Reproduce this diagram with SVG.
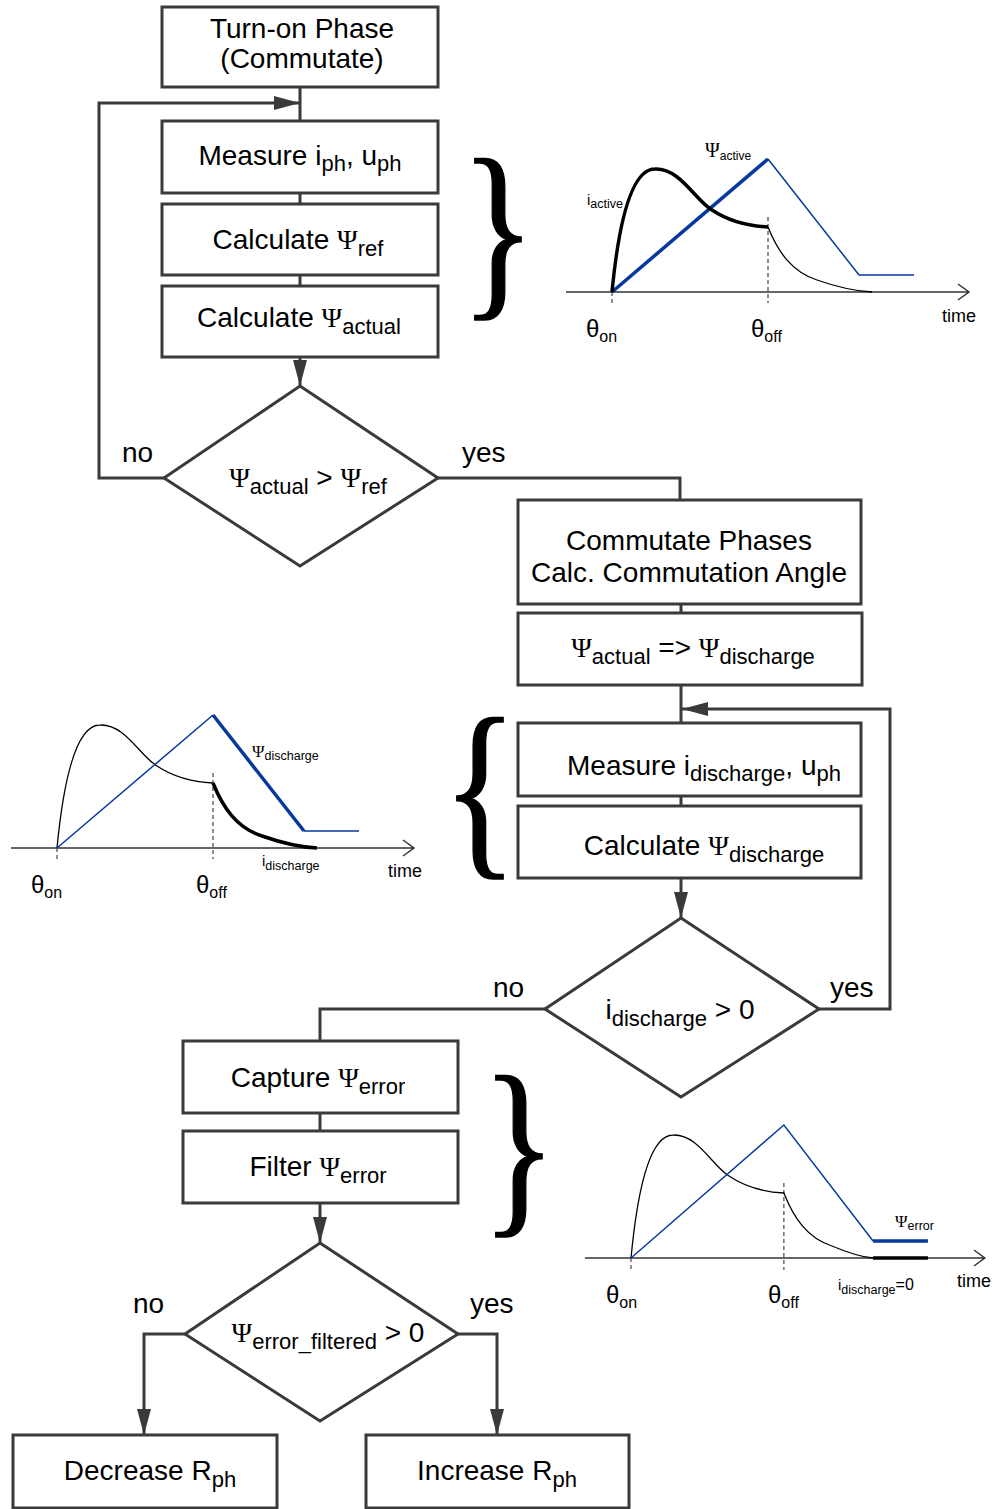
<svg xmlns="http://www.w3.org/2000/svg" width="1002" height="1509" viewBox="0 0 1002 1509">
  <style>
    .box { fill: #fff; stroke: #3a3a3a; stroke-width: 3; }
    .conn { fill: none; stroke: #3a3a3a; stroke-width: 3; }
    .t { font-family: "Liberation Sans", Arial, sans-serif; font-size: 28px; fill: #000; }
    .s { font-size: 22px; }
    .psi { font-family: "Liberation Serif", "Times New Roman", serif; }
    .brace { font-family: "Liberation Serif", "Times New Roman", serif; font-size: 195px; fill: #000; stroke: #000; stroke-width: 1.5; }
    .ax { fill: none; stroke: #333; stroke-width: 1.5; }
    .dash { fill: none; stroke: #444; stroke-width: 1.2; stroke-dasharray: 4 3; }
    .ik { fill: none; stroke: #000; stroke-width: 3.5; }
    .in { fill: none; stroke: #000; stroke-width: 1.3; }
    .fk { fill: none; stroke: #06399f; stroke-width: 3.5; }
    .fn { fill: none; stroke: #06399f; stroke-width: 1.5; }
    .g { font-family: "Liberation Sans", Arial, sans-serif; font-size: 18px; fill: #000; }
    .gs { font-size: 12.5px; }
    .th { font-size: 24px; }
    .ths { font-size: 16px; }
  </style>
  <defs>
    <marker id="arrow" markerUnits="userSpaceOnUse" markerWidth="26" markerHeight="14" refX="26" refY="7" orient="auto">
      <path d="M0,0 L26,7 L0,14 z" fill="#3a3a3a"/>
    </marker>
  </defs>

  <rect width="1002" height="1509" fill="#fff"/>

  <!-- connectors -->
  <g id="connectors">
    <path class="conn" d="M300,87 V121"/>
    <path class="conn" d="M164,478 H99 V103 H300" marker-end="url(#arrow)"/>
    <path class="conn" d="M300,193 V204"/>
    <path class="conn" d="M300,275 V286"/>
    <path class="conn" d="M300,357 V386" marker-end="url(#arrow)"/>
    <path class="conn" d="M438,478 H680 V500"/>
    <path class="conn" d="M681,604 V613"/>
    <path class="conn" d="M681,685 V723"/>
    <path class="conn" d="M819,1009 H890 V709 H682" marker-end="url(#arrow)"/>
    <path class="conn" d="M681,796 V806"/>
    <path class="conn" d="M681,878 V918" marker-end="url(#arrow)"/>
    <path class="conn" d="M545,1009 H320 V1041"/>
    <path class="conn" d="M320,1113 V1131"/>
    <path class="conn" d="M320,1203 V1243" marker-end="url(#arrow)"/>
    <path class="conn" d="M185,1334 H144 V1435" marker-end="url(#arrow)"/>
    <path class="conn" d="M458,1334 H497 V1435" marker-end="url(#arrow)"/>
  </g>

  <!-- branch labels -->
  <g id="branch-labels" class="t">
    <text x="122" y="462">no</text>
    <text x="462" y="462">yes</text>
    <text x="493" y="997">no</text>
    <text x="830" y="997">yes</text>
    <text x="133" y="1313">no</text>
    <text x="470" y="1313">yes</text>
  </g>

  <g id="turn-on">
    <rect class="box" x="162" y="7" width="276" height="80"/>
    <text class="t" x="302" y="38" text-anchor="middle">Turn-on Phase</text>
    <text class="t" x="302" y="68" text-anchor="middle">(Commutate)</text>
  </g>

  <g id="measure-ph">
    <rect class="box" x="162" y="121" width="276" height="72"/>
    <text class="t" x="300" y="165" text-anchor="middle">Measure i<tspan class="s" dy="6">ph</tspan><tspan dy="-6">, u</tspan><tspan class="s" dy="6">ph</tspan></text>
  </g>

  <g id="calc-ref">
    <rect class="box" x="162" y="204" width="276" height="71"/>
    <text class="t" x="298" y="249" text-anchor="middle">Calculate <tspan class="psi">Ψ</tspan><tspan class="s" dy="7">ref</tspan></text>
  </g>

  <g id="calc-actual">
    <rect class="box" x="162" y="286" width="276" height="71"/>
    <text class="t" x="299" y="327" text-anchor="middle">Calculate <tspan class="psi">Ψ</tspan><tspan class="s" dy="7">actual</tspan></text>
  </g>

  <g id="decision-actual">
    <polygon class="box" points="300,386 438,478 300,566 164,478"/>
    <text class="t" x="308" y="487" text-anchor="middle"><tspan class="psi">Ψ</tspan><tspan class="s" dy="7">actual</tspan><tspan dy="-7"> &gt; </tspan><tspan class="psi">Ψ</tspan><tspan class="s" dy="7">ref</tspan></text>
  </g>

  <g id="commutate">
    <rect class="box" x="518" y="500" width="343" height="104"/>
    <text class="t" x="689" y="550" text-anchor="middle">Commutate Phases</text>
    <text class="t" x="689" y="582" text-anchor="middle">Calc. Commutation Angle</text>
  </g>

  <g id="flux-transfer">
    <rect class="box" x="518" y="613" width="344" height="72"/>
    <text class="t" x="693" y="657" text-anchor="middle"><tspan class="psi">Ψ</tspan><tspan class="s" dy="7">actual</tspan><tspan dy="-7"> =&gt; </tspan><tspan class="psi">Ψ</tspan><tspan class="s" dy="7">discharge</tspan></text>
  </g>

  <g id="measure-discharge">
    <rect class="box" x="518" y="723" width="343" height="73"/>
    <text class="t" x="704" y="775" text-anchor="middle">Measure i<tspan class="s" dy="6">discharge</tspan><tspan dy="-6">, u</tspan><tspan class="s" dy="6">ph</tspan></text>
  </g>

  <g id="calc-discharge">
    <rect class="box" x="518" y="806" width="343" height="72"/>
    <text class="t" x="704" y="855" text-anchor="middle">Calculate <tspan class="psi">Ψ</tspan><tspan class="s" dy="7">discharge</tspan></text>
  </g>

  <g id="decision-discharge">
    <polygon class="box" points="681,918 819,1009 681,1097 545,1009"/>
    <text class="t" x="680" y="1019" text-anchor="middle">i<tspan class="s" dy="7">discharge</tspan><tspan dy="-7"> &gt; 0</tspan></text>
  </g>

  <g id="capture-error">
    <rect class="box" x="183" y="1041" width="275" height="72"/>
    <text class="t" x="318" y="1087" text-anchor="middle">Capture <tspan class="psi">Ψ</tspan><tspan class="s" dy="7">error</tspan></text>
  </g>

  <g id="filter-error">
    <rect class="box" x="183" y="1131" width="275" height="72"/>
    <text class="t" x="318" y="1176" text-anchor="middle">Filter <tspan class="psi">Ψ</tspan><tspan class="s" dy="7">error</tspan></text>
  </g>

  <g id="decision-error">
    <polygon class="box" points="320,1243 458,1334 320,1421 185,1334"/>
    <text class="t" x="328" y="1342" text-anchor="middle"><tspan class="psi">Ψ</tspan><tspan class="s" dy="7">error_filtered</tspan><tspan dy="-7"> &gt; 0</tspan></text>
  </g>

  <g id="decrease-r">
    <rect class="box" x="13" y="1435" width="264" height="73"/>
    <text class="t" x="150" y="1480" text-anchor="middle">Decrease R<tspan class="s" dy="7">ph</tspan></text>
  </g>

  <g id="increase-r">
    <rect class="box" x="366" y="1435" width="263" height="73"/>
    <text class="t" x="497" y="1480" text-anchor="middle">Increase R<tspan class="s" dy="7">ph</tspan></text>
  </g>

  <!-- braces grouping the steps with their waveforms -->
  <g id="braces">
    <text class="brace" transform="translate(498,294) scale(0.8,1)" text-anchor="middle">}</text>
    <text class="brace" transform="translate(480,853) scale(0.8,1)" text-anchor="middle">{</text>
    <text class="brace" transform="translate(519,1211) scale(0.8,1)" text-anchor="middle">}</text>
  </g>

  <!-- waveform: active phase (origin at theta_on on the time axis) -->
  <g id="plot-active" transform="translate(612,292)">
    <path class="ax" d="M-46,0 H357 M346,-8 L357,0 L346,8"/>
    <path class="dash" d="M0,0 V11 M156,-75 V11"/>
    <path class="in" d="M156,-65 C166,-40 180,-20 205,-12 C225,-5 240,-1 260,0"/>
    <path class="fn" d="M156,-133 L247,-17 H302"/>
    <path class="fk" d="M0,0 L156,-133"/>
    <path class="ik" d="M0,0 C6,-62 18,-123 43,-123 C68,-124 83,-92 100,-82 C118,-70 136,-66 156,-65"/>
  </g>
  <g id="plot-active-labels" class="g">
    <text x="587" y="205" font-size="15">i<tspan class="gs" font-size="12" dy="3">active</tspan></text>
    <text x="705" y="157"><tspan class="psi" font-size="20">Ψ</tspan><tspan font-size="12" dy="3">active</tspan></text>
    <text x="586" y="337" class="th">θ<tspan class="ths" dy="5">on</tspan></text>
    <text x="751" y="337" class="th">θ<tspan class="ths" dy="5">off</tspan></text>
    <text x="942" y="322">time</text>
  </g>

  <!-- waveform: discharge phase -->
  <g id="plot-discharge" transform="translate(57,848)">
    <path class="ax" d="M-46,0 H357 M346,-8 L357,0 L346,8"/>
    <path class="dash" d="M0,0 V11 M156,-75 V11"/>
    <path class="in" d="M0,0 C6,-62 18,-123 43,-123 C68,-124 83,-92 100,-82 C118,-70 136,-66 156,-65"/>
    <path class="fn" d="M0,0 L156,-133 M247,-17 H302"/>
    <path class="fk" d="M156,-133 L247,-17"/>
    <path class="ik" d="M156,-65 C166,-40 180,-20 205,-12 C225,-5 240,-1 260,0"/>
  </g>
  <g id="plot-discharge-labels" class="g">
    <text x="252" y="757"><tspan class="psi" font-size="17">Ψ</tspan><tspan class="gs" dy="3">discharge</tspan></text>
    <text x="262" y="866" font-size="15">i<tspan class="gs" dy="4">discharge</tspan></text>
    <text x="31" y="893" class="th">θ<tspan class="ths" dy="5">on</tspan></text>
    <text x="196" y="893" class="th">θ<tspan class="ths" dy="5">off</tspan></text>
    <text x="388" y="877">time</text>
  </g>

  <!-- waveform: flux error after current has decayed -->
  <g id="plot-error" transform="translate(631,1258) scale(0.98,1)">
    <path class="ax" d="M-47,0 H361 M350,-8 L361,0 L350,8"/>
    <path class="dash" d="M0,0 V12 M156,-75 V12"/>
    <path class="in" d="M0,0 C6,-62 18,-123 43,-123 C68,-124 83,-92 100,-82 C118,-70 136,-66 156,-65 C166,-40 180,-20 205,-12 C222,-5 235,-1 247,0"/>
    <path class="fn" d="M0,0 L156,-133 L247,-17"/>
    <path class="fk" d="M247,-17 H303"/>
    <path class="ik" d="M247,0 H303"/>
  </g>
  <g id="plot-error-labels" class="g">
    <text x="895" y="1227"><tspan class="psi" font-size="17">Ψ</tspan><tspan class="gs" dy="3">error</tspan></text>
    <text x="838" y="1290" font-size="15">i<tspan class="gs" dy="4">discharge</tspan><tspan font-size="16" dy="-4">=0</tspan></text>
    <text x="606" y="1303" class="th">θ<tspan class="ths" dy="5">on</tspan></text>
    <text x="768" y="1303" class="th">θ<tspan class="ths" dy="5">off</tspan></text>
    <text x="957" y="1287">time</text>
  </g>
</svg>
